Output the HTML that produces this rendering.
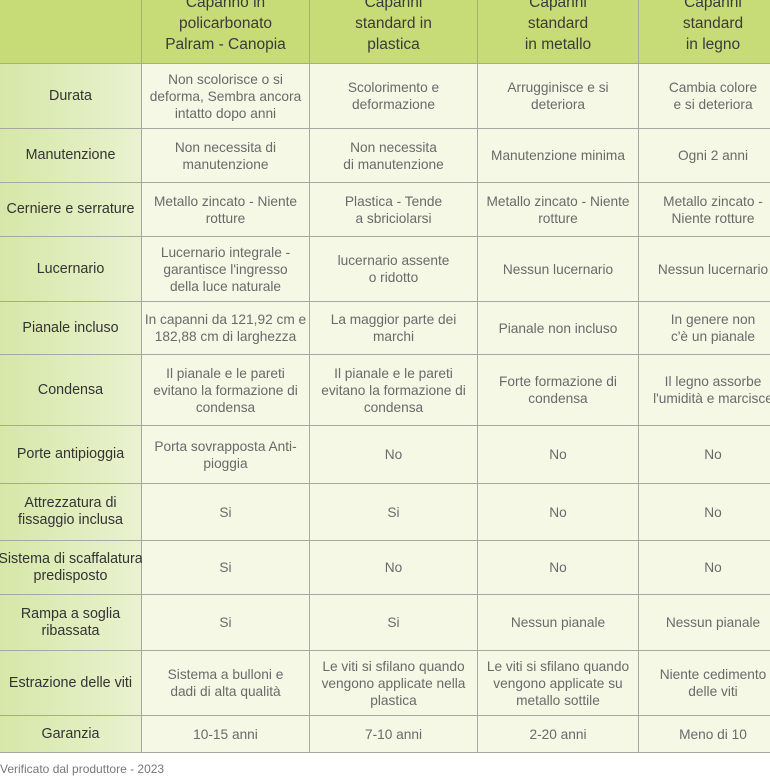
<!DOCTYPE html>
<html><head><meta charset="utf-8"><style>
html,body{margin:0;padding:0;width:770px;height:770px;overflow:hidden;background:#fff;font-family:"Liberation Sans","DejaVu Sans",sans-serif;}
.c{position:absolute;display:flex;align-items:center;justify-content:center;text-align:center;white-space:nowrap;box-sizing:border-box;font-size:13.7px;line-height:17px;color:#6a6a6a;border-right:1px solid #a8a8a0;border-bottom:1px solid #a8a8a0;background:#f4f8e5;}
.l{background:linear-gradient(90deg,#d6e7a8,#e9f2cf);color:#333;font-size:14.3px;}
.h{background:#c7dc77;color:#3a3a3a;font-size:15.5px;line-height:21px;align-items:flex-end;padding-bottom:8px;}
.f{position:absolute;left:0;top:762px;font-size:12px;color:#777;}
</style></head><body>
<div id="t"></div>
<script>
const cols=[0,142,310,478,639,788];
const rows=[-30,64,129,183,237,302,355,426,484,541,595,651,716,753];
const data=[
["","Capanno in<br>policarbonato<br>Palram - Canopia","Capanni<br>standard in<br>plastica","Capanni<br>standard<br>in metallo","Capanni<br>standard<br>in legno"],
["Durata","Non scolorisce o si<br>deforma, Sembra ancora<br>intatto dopo anni","Scolorimento e<br>deformazione","Arrugginisce e si<br>deteriora","Cambia colore<br>e si deteriora"],
["Manutenzione","Non necessita di<br>manutenzione","Non necessita<br>di manutenzione","Manutenzione minima","Ogni 2 anni"],
["Cerniere e serrature","Metallo zincato - Niente<br>rotture","Plastica - Tende<br>a sbriciolarsi","Metallo zincato - Niente<br>rotture","Metallo zincato -<br>Niente rotture"],
["Lucernario","Lucernario integrale -<br>garantisce l'ingresso<br>della luce naturale","lucernario assente<br>o ridotto","Nessun lucernario","Nessun lucernario"],
["Pianale incluso","In capanni da 121,92 cm e<br>182,88 cm di larghezza","La maggior parte dei<br>marchi","Pianale non incluso","In genere non<br>c'è un pianale"],
["Condensa","Il pianale e le pareti<br>evitano la formazione di<br>condensa","Il pianale e le pareti<br>evitano la formazione di<br>condensa","Forte formazione di<br>condensa","Il legno assorbe<br>l'umidità e marcisce"],
["Porte antipioggia","Porta sovrapposta Anti-<br>pioggia","No","No","No"],
["Attrezzatura di<br>fissaggio inclusa","Si","Si","No","No"],
["Sistema di scaffalatura<br>predisposto","Si","No","No","No"],
["Rampa a soglia<br>ribassata","Si","Si","Nessun pianale","Nessun pianale"],
["Estrazione delle viti","Sistema a bulloni e<br>dadi di alta qualità","Le viti si sfilano quando<br>vengono applicate nella<br>plastica","Le viti si sfilano quando<br>vengono applicate su<br>metallo sottile","Niente cedimento<br>delle viti"],
["Garanzia","10-15 anni","7-10 anni","2-20 anni","Meno di 10"]];
let h="";
data.forEach((r,i)=>r.forEach((t,j)=>{
 let cls="c"+(i==0?" h":(j==0?" l":""));
 h+=`<div class="${cls}" style="left:${cols[j]}px;top:${rows[i]}px;width:${cols[j+1]-cols[j]}px;height:${rows[i+1]-rows[i]}px">${t}</div>`;
}));
document.getElementById("t").innerHTML=h;
</script>
<div class="f">Verificato dal produttore - 2023</div>
</body></html>
